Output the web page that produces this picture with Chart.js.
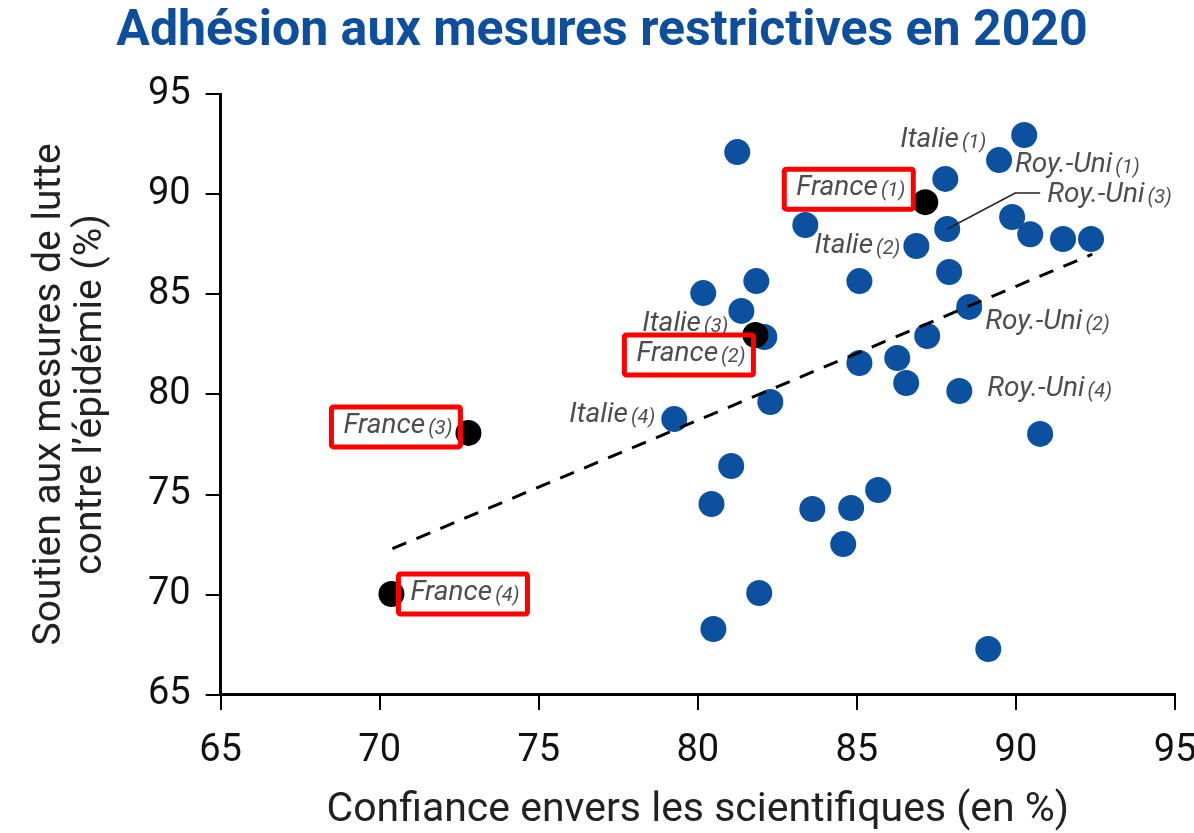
<!DOCTYPE html>
<html>
<head>
<meta charset="utf-8">
<script src="https://cdn.jsdelivr.net/npm/chart.js@4.4.0/dist/chart.umd.min.js"></script>
<style>
  body { margin: 0; background: #fff; }
  #chart { display: block; }
</style>
</head>
<body>
<canvas id="chart" width="1194" height="833"></canvas>
<script>
// *** data for display ***
const TITLE = "Adhésion aux mesures restrictives en 2020";
const X_TITLE = "Confiance envers les scientifiques (en %)";
const Y_TITLE = ["Soutien aux mesures de lutte", "contre l’épidémie (%)"];

// other countries (blue)
const OTHERS_X = [90.26, 89.47, 87.78, 81.24, 83.38, 87.84, 89.88, 90.45, 91.48, 92.36,
                  86.87, 87.90, 85.08, 81.84, 80.17, 81.37, 88.53, 82.09, 87.21, 86.27,
                  85.08, 86.55, 88.22, 82.28, 79.26, 90.76, 81.05, 80.43, 85.67, 84.82,
                  83.60, 84.57, 81.93, 80.49, 89.13];
const OTHERS_Y = [92.95, 91.70, 90.76, 92.10, 88.46, 88.26, 88.86, 88.00, 87.76, 87.76,
                  87.41, 86.11, 85.66, 85.66, 85.06, 84.17, 84.37, 82.87, 82.92, 81.82,
                  81.57, 80.57, 80.17, 79.62, 78.77, 78.03, 76.43, 74.53, 75.23, 74.33,
                  74.28, 72.53, 70.09, 68.29, 67.29];

// France, waves 1 to 4 (black)
const FRANCE_X = [87.15, 81.81, 72.79, 70.37];
const FRANCE_Y = [89.60, 82.97, 78.08, 70.04];

// dashed trend line
const TREND_X = [70.4, 92.4];
const TREND_Y = [72.3, 87.0];

// labelled points: [set, index, name, wave]
const LABELLED = [
    ["others", 2, "Italie", "(1)"],
    ["others", 1, "Roy.-Uni", "(1)"],
    ["france", 0, "France", "(1)"],
    ["others", 5, "Roy.-Uni", "(3)"],
    ["others", 10, "Italie", "(2)"],
    ["others", 17, "Italie", "(3)"],
    ["france", 1, "France", "(2)"],
    ["others", 16, "Roy.-Uni", "(2)"],
    ["others", 22, "Roy.-Uni", "(4)"],
    ["others", 24, "Italie", "(4)"],
    ["france", 2, "France", "(3)"],
    ["france", 3, "France", "(4)"]
];

// label placement (offset in px from the point, alignment, red frame, leader line)
const LABEL_STYLE = [
    { dx: -45, dy: -39, align: "left" },
    { dx: 16, dy: 5, align: "left" },
    { dx: -20, dy: -14, align: "right", box: true },
    { dx: 100, dy: -34, align: "left", leader: [[68, -36], [93, -36]] },
    { dx: -16, dy: 0, align: "right" },
    { dx: -36, dy: -13, align: "right" },
    { dx: -10, dy: 19, align: "right", box: true },
    { dx: 16, dy: 15, align: "left" },
    { dx: 28, dy: -2, align: "left" },
    { dx: -19, dy: -4, align: "right" },
    { dx: -16, dy: -7, align: "right", box: true },
    { dx: 19, dy: -1, align: "left", box: true }
];

const BLUE = "#0b519f";
const FONT = "Roboto, 'Liberation Sans', sans-serif";

function toPoints(xs, ys) {
    return xs.map((x, i) => ({ x: x, y: ys[i] }));
}

// *** labels drawn next to the points ***
const pointLabels = {
    id: "pointLabels",
    afterDatasetsDraw(chart) {
        const ctx = chart.ctx;
        const xs = chart.scales.x, ys = chart.scales.y;
        LABELLED.forEach(function (lab, i) {
            const st = LABEL_STYLE[i];
            const src = lab[0] === "france" ? [FRANCE_X, FRANCE_Y] : [OTHERS_X, OTHERS_Y];
            const px = xs.getPixelForValue(src[0][lab[1]]);
            const py = ys.getPixelForValue(src[1][lab[1]]);
            ctx.save();
            ctx.font = "italic 28px " + FONT;
            const w1 = ctx.measureText(lab[2]).width;
            ctx.font = "italic 20px " + FONT;
            const w2 = ctx.measureText(lab[3]).width;
            const gap = 3;
            const total = w1 + gap + w2;
            const tx = st.align === "left" ? px + st.dx : px + st.dx - total;
            const ty = py + st.dy;

            if (st.leader) {
                ctx.strokeStyle = "#222";
                ctx.lineWidth = 1.5;
                ctx.beginPath();
                ctx.moveTo(px, py);
                st.leader.forEach(p => ctx.lineTo(px + p[0], py + p[1]));
                ctx.stroke();
            }

            ctx.fillStyle = "#4d4d4d";
            ctx.textBaseline = "middle";
            ctx.textAlign = "left";
            ctx.font = "italic 28px " + FONT;
            ctx.fillText(lab[2], tx, ty);
            ctx.font = "italic 20px " + FONT;
            ctx.fillText(lab[3], tx + w1 + gap, ty + 3);

            if (st.box) {
                ctx.strokeStyle = "#ff0000";
                ctx.lineWidth = 5;
                ctx.beginPath();
                ctx.roundRect(tx - 12, ty - 19, total + 20, 40, 2);
                ctx.stroke();
            }
            ctx.restore();
        });
    }
};

// *** display chart ***
const ctx = document.getElementById("chart").getContext("2d");
const axisGrid = { display: true, drawOnChartArea: false, drawTicks: true, tickLength: 15, color: "#000", lineWidth: 2 };

new Chart(ctx, {
    type: "scatter",
    data: {
        datasets: [
            {
                label: "Tendance",
                data: toPoints(TREND_X, TREND_Y),
                showLine: true,
                borderColor: "#000",
                borderWidth: 3,
                borderDash: [15, 11],
                pointRadius: 0,
                fill: false,
                order: 0
            },
            {
                label: "France",
                data: toPoints(FRANCE_X, FRANCE_Y),
                backgroundColor: "#000",
                borderWidth: 0,
                pointRadius: 13,
                pointHoverRadius: 13,
                order: 1
            },
            {
                label: "Autres pays",
                data: toPoints(OTHERS_X, OTHERS_Y),
                backgroundColor: BLUE,
                borderWidth: 0,
                pointRadius: 13,
                pointHoverRadius: 13,
                order: 2
            }
        ]
    },
    options: {
        responsive: false,
        animation: false,
        layout: { padding: { left: 10, right: 0, top: 0, bottom: 4 } },
        plugins: {
            legend: { display: false },
            tooltip: { enabled: false },
            title: {
                display: true,
                text: TITLE,
                color: "#0d4f9c",
                font: { family: FONT, size: 50, weight: "bold", lineHeight: 1.2 },
                padding: { top: 2, bottom: 32 }
            }
        },
        scales: {
            x: {
                type: "linear",
                min: 65, max: 95,
                ticks: { stepSize: 5, color: "#111", font: { family: FONT, size: 38, lineHeight: 0.9 }, padding: 24 },
                grid: axisGrid,
                border: { display: true, color: "#000", width: 3 },
                title: { display: true, text: X_TITLE, color: "#222", font: { family: FONT, size: 41, lineHeight: 0.9 }, padding: { top: 0, bottom: 0 } },
                afterFit: function (scale) { scale.paddingRight = 19; }
            },
            y: {
                type: "linear",
                min: 65, max: 95,
                ticks: { stepSize: 5, color: "#111", font: { family: FONT, size: 38 }, padding: 15 },
                grid: axisGrid,
                border: { display: true, color: "#000", width: 3 },
                title: { display: true, text: Y_TITLE, color: "#222", font: { family: FONT, size: 39, lineHeight: 1.05 }, padding: { top: 20, bottom: 21 } }
            }
        }
    },
    plugins: [pointLabels]
});
</script>
</body>
</html>
